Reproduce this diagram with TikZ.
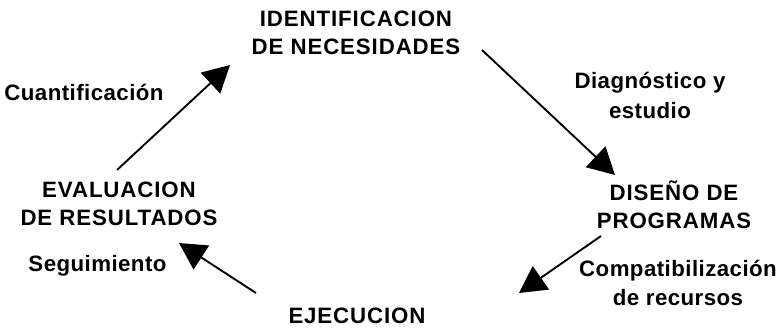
\documentclass[tikz,border=0pt]{standalone}
\usepackage{fontspec}
\setmainfont{Liberation Sans}
\usetikzlibrary{arrows.meta}

\begin{document}
\begin{tikzpicture}[x=0.03cm,y=-0.03cm,
    stage/.style={inner sep=0pt,align=center,
      font=\fontsize{19}{24}\selectfont\bfseries\addfontfeatures{LetterSpace=4}},
    tag/.style={inner sep=0pt,align=center,
      font=\fontsize{19}{25}\selectfont\bfseries\addfontfeatures{LetterSpace=2}},
    flow/.style={line width=1.6pt,-{Triangle[length=0.8cm,width=0.85cm]}}]
  \useasboundingbox (0,0) rectangle (777,330);

  \node[stage] (ident) at (356,32.5) {IDENTIFICACION\\DE NECESIDADES};
  \node[stage] (diseno) at (674,204.5) {DISEÑO DE\\PROGRAMAS};
  \node[stage] (ejec) at (357,315.5) {EJECUCION};
  \node[stage] (evalu) at (119,204) {EVALUACION\\DE RESULTADOS};

  \node[tag] (diag) at (650,95.5) {Diagnóstico y\\estudio};
  \node[tag] (compat) at (678,283) {Compatibilización\\de recursos};
  \node[tag] (segui) at (97.5,265.5) {Seguimiento};
  \node[tag] (cuant) at (84,92.5) {Cuantificación};

  \coordinate (a1) at (482,50);  \coordinate (b1) at (615,175);
  \coordinate (a2) at (601,236); \coordinate (b2) at (519,293);
  \coordinate (a3) at (256,293); \coordinate (b3) at (179,243);
  \coordinate (a4) at (117,170); \coordinate (b4) at (230,65);

  \draw[flow] (a1) -- (b1);
  \draw[flow] (a2) -- (b2);
  \draw[flow] (a3) -- (b3);
  \draw[flow] (a4) -- (b4);
\end{tikzpicture}
\end{document}
